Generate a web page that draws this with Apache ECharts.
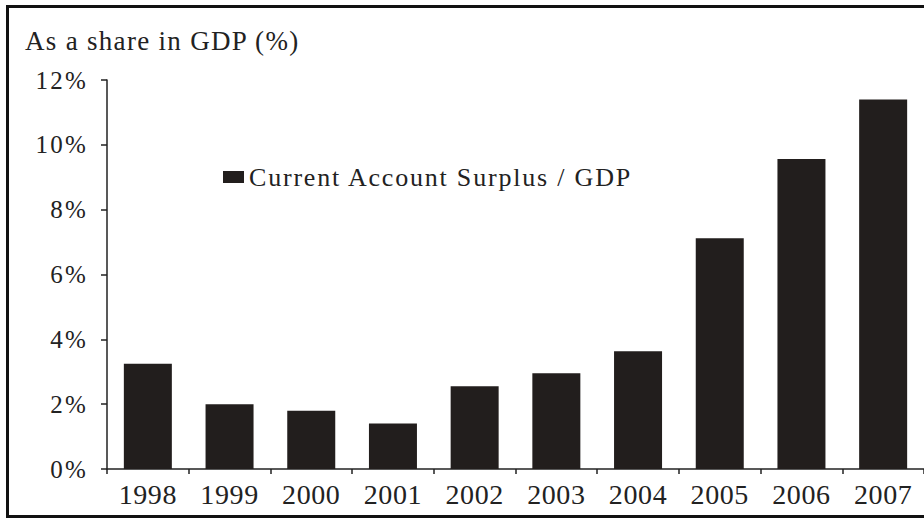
<!DOCTYPE html>
<html>
<head>
<meta charset="utf-8">
<script src="https://cdn.jsdelivr.net/npm/echarts@6/dist/echarts.min.js"></script>
<style>
html,body{margin:0;padding:0;background:#fff;}
#chart{width:924px;height:520px;}
/* reference text is set with loose letter spacing */
#chart text[style*="27px"]{letter-spacing:1.3px;}
#chart text[style*="26px"]{letter-spacing:1.8px;}
#chart text[style*="25px"]{letter-spacing:2.2px;}
#chart text[style*="28px"]{letter-spacing:0.6px;}
</style>
</head>
<body>
<div id="chart"></div>
<script>
const years = ['1998','1999','2000','2001','2002','2003','2004','2005','2006','2007'];
const surplusShare = [3.25, 2.0, 1.8, 1.4, 2.55, 2.95, 3.63, 7.12, 9.56, 11.4];
const yTicks = { min: 0, max: 12, interval: 2 };
const seriesName = 'Current Account Surplus / GDP';
const titleText = 'As a share in GDP (%)';

const FONT = '"Liberation Serif", "DejaVu Serif", serif';
const chart = echarts.init(document.getElementById('chart'), null, { renderer: 'svg' });
chart.setOption({
  backgroundColor: '#fff',
  animation: false,
  title: {
    text: titleText,
    left: 20, top: 22,
    textStyle: { fontFamily: FONT, fontSize: 27, fontWeight: 'normal', color: '#222' }
  },
  legend: {
    data: [seriesName],
    left: 218, top: 159,
    itemWidth: 21, itemHeight: 12,
    icon: 'rect',
    textStyle: { fontFamily: FONT, fontSize: 26, color: '#222' }
  },
  grid: { left: 107, right: -1, top: 80, bottom: 51, containLabel: false },
  xAxis: {
    type: 'category',
    data: years,
    axisLine: { lineStyle: { color: '#222', width: 1.5 } },
    axisTick: { show: true, length: 5, lineStyle: { color: '#222', width: 1.5 } },
    axisLabel: { fontFamily: FONT, fontSize: 28, color: '#222', margin: 11, interval: 0 }
  },
  yAxis: {
    type: 'value',
    min: yTicks.min, max: yTicks.max, interval: yTicks.interval,
    axisLine: { show: true, lineStyle: { color: '#222', width: 1.5 } },
    axisTick: { show: true, length: 6, lineStyle: { color: '#222', width: 1.5 } },
    splitLine: { show: false },
    axisLabel: { formatter: '{value}%', fontFamily: FONT, fontSize: 25, color: '#222', margin: 19 }
  },
  series: [{
    name: seriesName,
    type: 'bar',
    data: surplusShare,
    barWidth: 48,
    itemStyle: { color: '#221e1d' }
  }],
  graphic: [{
    type: 'rect',
    shape: { x: 7.5, y: 6.5, width: 940, height: 510 },
    style: { fill: 'none', stroke: '#111', lineWidth: 3 },
    z: 100
  }]
});
</script>
</body>
</html>
